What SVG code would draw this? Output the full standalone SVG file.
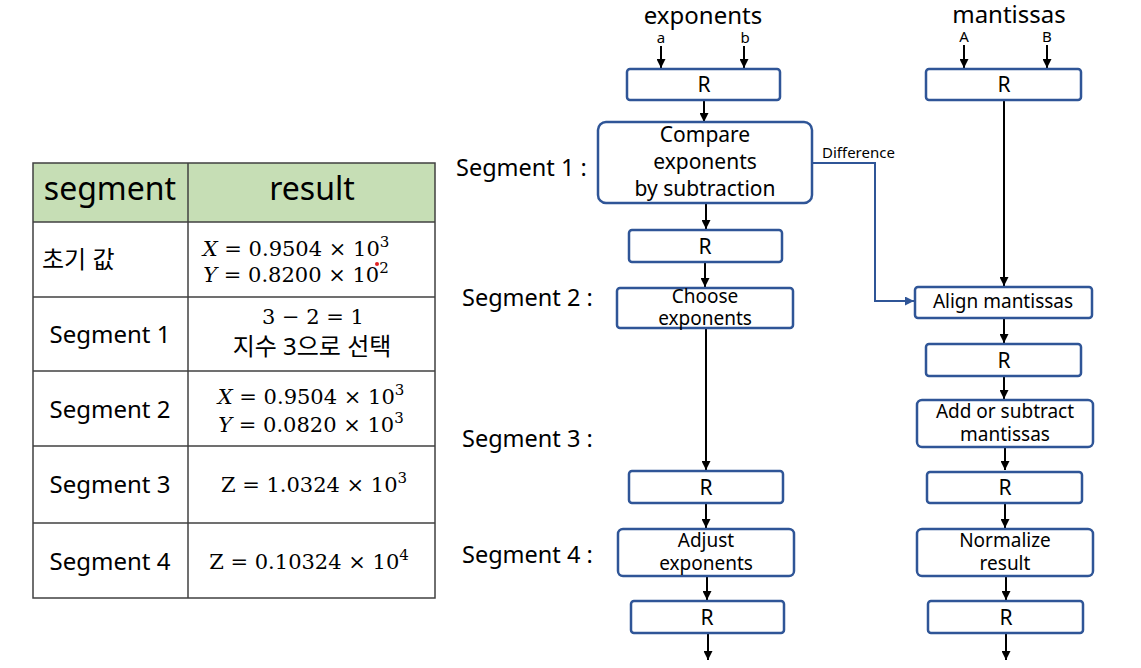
<svg xmlns="http://www.w3.org/2000/svg" width="1141" height="668" viewBox="0 0 1141 668">
<defs>
<marker id="ab" markerWidth="9" markerHeight="9" refX="9" refY="4.5" orient="auto" markerUnits="userSpaceOnUse"><path d="M0,0 L9,4.5 L0,9 z" fill="#000"/></marker>
<marker id="abb" markerWidth="9" markerHeight="9" refX="9" refY="4.5" orient="auto" markerUnits="userSpaceOnUse"><path d="M0,0 L9,4.5 L0,9 z" fill="#2F5597"/></marker>
<style>
.s{font-family:"Noto Sans","Noto Sans CJK KR",sans-serif;fill:#000}
.m{font-family:"DejaVu Serif","Liberation Serif",serif;fill:#000;font-size:21px}
.box{fill:#fff;stroke:#2F5597;stroke-width:2.5}
.ln{stroke:#000;stroke-width:2;fill:none;marker-end:url(#ab)}
.tb{stroke:#404040;stroke-width:1.5;fill:none}
.c{text-anchor:middle}
.bt{font-size:19px}
.r{font-size:21px}
.seg{font-size:23.5px}
.tl{font-size:24px}
</style>
</defs>
<rect width="1141" height="668" fill="#fff"/>

<g id="table">
<rect x="33" y="163" width="402" height="59" fill="#C6DEB5"/>
<rect x="33" y="163" width="402" height="435" class="tb"/>
<line x1="188" y1="163" x2="188" y2="598" class="tb"/>
<line x1="33" y1="222" x2="435" y2="222" class="tb"/>
<line x1="33" y1="297" x2="435" y2="297" class="tb"/>
<line x1="33" y1="371" x2="435" y2="371" class="tb"/>
<line x1="33" y1="446" x2="435" y2="446" class="tb"/>
<line x1="33" y1="523" x2="435" y2="523" class="tb"/>
<text x="110" y="200" class="s c" font-size="32">segment</text>
<text x="312" y="200" class="s c" font-size="32">result</text>
<text x="42" y="268" class="s tl">초기 값</text>
<text x="296" y="256" class="m c"><tspan font-style="italic">X</tspan> = 0.9504 × 10<tspan dy="-9" font-size="15">3</tspan></text>
<text x="296" y="282" class="m c"><tspan font-style="italic">Y</tspan> = 0.8200 × 10<tspan dy="-9" font-size="15">2</tspan></text>
<circle cx="377" cy="264" r="2" fill="#E02020"/>
<text x="110" y="343" class="s c tl">Segment 1</text>
<text x="313" y="324" class="m c">3 − 2 = 1</text>
<text x="312" y="355" class="s c tl">지수 3으로 선택</text>
<text x="110" y="418" class="s c tl">Segment 2</text>
<text x="311" y="404" class="m c"><tspan font-style="italic">X</tspan> = 0.9504 × 10<tspan dy="-9" font-size="15">3</tspan></text>
<text x="311" y="432" class="m c"><tspan font-style="italic">Y</tspan> = 0.0820 × 10<tspan dy="-9" font-size="15">3</tspan></text>
<text x="110" y="493" class="s c tl">Segment 3</text>
<text x="314" y="492" class="m c">Z = 1.0324 × 10<tspan dy="-9" font-size="15">3</tspan></text>
<text x="110" y="570" class="s c tl">Segment 4</text>
<text x="309" y="569" class="m c">Z = 0.10324 × 10<tspan dy="-9" font-size="15">4</tspan></text>
</g>

<g id="labels">
<text x="703" y="24" class="s c" font-size="24">exponents</text>
<text x="1009" y="23" class="s c" font-size="24">mantissas</text>
<text x="661" y="43" class="s c" font-size="15">a</text>
<text x="745" y="43" class="s c" font-size="15">b</text>
<text x="964" y="42" class="s c" font-size="15">A</text>
<text x="1047" y="42" class="s c" font-size="15">B</text>
<text x="456" y="176" class="s seg">Segment 1 :</text>
<text x="462" y="306" class="s seg">Segment 2 :</text>
<text x="462" y="447" class="s seg">Segment 3 :</text>
<text x="462" y="563" class="s seg">Segment 4 :</text>
<text x="822" y="158" class="s" font-size="15">Difference</text>
</g>

<g id="connectors">
<line x1="661" y1="46" x2="661" y2="68" class="ln"/>
<line x1="744" y1="46" x2="744" y2="68" class="ln"/>
<line x1="964" y1="45" x2="964" y2="68" class="ln"/>
<line x1="1047" y1="45" x2="1047" y2="68" class="ln"/>
<line x1="704" y1="101" x2="704" y2="122" class="ln"/>
<line x1="706" y1="204" x2="706" y2="229" class="ln"/>
<line x1="705" y1="263" x2="705" y2="287" class="ln"/>
<line x1="706" y1="322" x2="706" y2="470" class="ln"/>
<line x1="706" y1="504" x2="706" y2="528" class="ln"/>
<line x1="707" y1="577" x2="707" y2="600" class="ln"/>
<line x1="708" y1="634" x2="708" y2="660" class="ln"/>
<line x1="1004" y1="101" x2="1004" y2="286" class="ln"/>
<line x1="1004" y1="319" x2="1004" y2="343" class="ln"/>
<line x1="1004" y1="377" x2="1004" y2="399" class="ln"/>
<line x1="1005" y1="448" x2="1005" y2="470" class="ln"/>
<line x1="1005" y1="504" x2="1005" y2="528" class="ln"/>
<line x1="1006" y1="577" x2="1006" y2="600" class="ln"/>
<line x1="1006" y1="634" x2="1006" y2="660" class="ln"/>
<path d="M812,163 H875 V301 H914" fill="none" stroke="#2F5597" stroke-width="2" marker-end="url(#abb)"/>
</g>

<g id="exp_r1"><rect x="627" y="69" width="153" height="31" rx="3" class="box"/><text x="704" y="92" class="s c r">R</text></g>
<g id="compare"><rect x="598" y="122" width="214" height="81" rx="8" class="box"/>
<text x="705" y="142" class="s c" font-size="21">Compare</text>
<text x="705" y="169" class="s c" font-size="21">exponents</text>
<text x="705" y="196" class="s c" font-size="21">by subtraction</text></g>
<g id="exp_r2"><rect x="629" y="230" width="153" height="32" rx="3" class="box"/><text x="705" y="254" class="s c r">R</text></g>
<g id="choose"><rect x="617" y="288" width="176" height="40" rx="3" class="box"/>
<text x="705" y="303" class="s c bt">Choose</text>
<text x="705" y="325" class="s c bt">exponents</text></g>
<g id="exp_r3"><rect x="629" y="471" width="154" height="32" rx="3" class="box"/><text x="706" y="495" class="s c r">R</text></g>
<g id="adjust"><rect x="618" y="529" width="176" height="47" rx="5" class="box"/>
<text x="706" y="547" class="s c bt">Adjust</text>
<text x="706" y="570" class="s c bt">exponents</text></g>
<g id="exp_r4"><rect x="631" y="601" width="153" height="32" rx="3" class="box"/><text x="707" y="625" class="s c r">R</text></g>

<g id="man_r1"><rect x="926" y="69" width="155" height="31" rx="3" class="box"/><text x="1004" y="92" class="s c r">R</text></g>
<g id="align"><rect x="915" y="287" width="177" height="31" rx="3" class="box"/><text x="1003" y="308" class="s c bt">Align mantissas</text></g>
<g id="man_r2"><rect x="926" y="344" width="155" height="32" rx="3" class="box"/><text x="1004" y="368" class="s c r">R</text></g>
<g id="add"><rect x="917" y="400" width="176" height="47" rx="5" class="box"/>
<text x="1005" y="418" class="s c bt">Add or subtract</text>
<text x="1005" y="441" class="s c bt">mantissas</text></g>
<g id="man_r3"><rect x="927" y="472" width="155" height="31" rx="3" class="box"/><text x="1005" y="495" class="s c r">R</text></g>
<g id="normalize"><rect x="917" y="529" width="176" height="47" rx="5" class="box"/>
<text x="1005" y="547" class="s c bt">Normalize</text>
<text x="1005" y="570" class="s c bt">result</text></g>
<g id="man_r4"><rect x="928" y="601" width="155" height="32" rx="3" class="box"/><text x="1006" y="625" class="s c r">R</text></g>
</svg>
